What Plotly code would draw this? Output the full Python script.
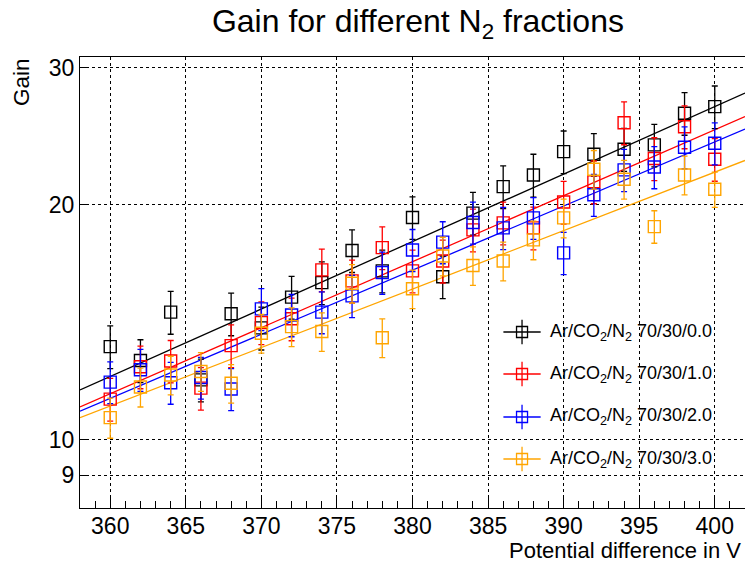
import numpy as np
import plotly.graph_objects as go

# Potential difference (V)
voltage = [360, 362, 364, 366, 368, 370, 372, 374, 376, 378, 380,
           382, 384, 386, 388, 390, 392, 394, 396, 398, 400]

# Measured gain and uncertainty for each N2 admixture
gain_n2_00 = [13.16, 12.63, 14.57, 11.93, 14.50, 13.91, 15.23, 15.90, 17.48, 16.46, 19.27,
              16.18, 19.52, 21.11, 21.85, 23.41, 23.23, 23.58, 23.88, 26.22, 26.74]
err_n2_00 = [0.83, 0.80, 0.92, 0.75, 0.91, 0.88, 0.96, 1.00, 1.10, 1.04, 1.21,
             1.02, 1.23, 1.33, 1.38, 1.47, 1.46, 1.49, 1.50, 1.65, 1.68]

gain_n2_10 = [11.27, 12.40, 12.61, 11.64, 13.20, 14.13, 14.29, 16.51, 15.98, 17.63, 16.46,
              16.95, 18.58, 18.97, 18.69, 20.17, 21.42, 25.50, 22.94, 25.20, 22.89]
err_n2_10 = [0.71, 0.78, 0.79, 0.73, 0.83, 0.89, 0.90, 1.04, 1.01, 1.11, 1.04,
             1.07, 1.17, 1.20, 1.18, 1.27, 1.35, 1.61, 1.45, 1.59, 1.44]

gain_n2_20 = [11.85, 12.29, 11.83, 12.01, 11.61, 14.71, 14.45, 14.57, 15.29, 16.38, 17.51,
              17.92, 18.99, 18.69, 19.25, 17.36, 20.61, 22.18, 22.37, 23.72, 24.00]
err_n2_20 = [0.73, 0.76, 0.73, 0.74, 0.72, 0.91, 0.90, 0.90, 0.95, 1.02, 1.09,
             1.11, 1.18, 1.16, 1.19, 1.08, 1.28, 1.38, 1.39, 1.47, 1.49]

gain_n2_30 = [10.67, 11.68, 12.10, 12.23, 11.81, 13.69, 13.96, 13.76, 15.87, 13.51, 15.61,
              17.20, 16.72, 16.95, 18.04, 19.25, 22.22, 21.58, 18.76, 21.85, 20.95]
err_n2_30 = [0.63, 0.67, 0.69, 0.70, 0.67, 0.78, 0.80, 0.78, 0.90, 0.77, 0.89,
             0.98, 0.95, 0.97, 1.03, 1.10, 1.27, 1.23, 0.90, 1.25, 1.09]

labels = ["Ar/CO<sub>2</sub>/N<sub>2</sub> 70/30/0.0",
          "Ar/CO<sub>2</sub>/N<sub>2</sub> 70/30/1.0",
          "Ar/CO<sub>2</sub>/N<sub>2</sub> 70/30/2.0",
          "Ar/CO<sub>2</sub>/N<sub>2</sub> 70/30/3.0"]
colors = ["#000000", "#ff0000", "#0000ff", "#ffa500"]
gains = [gain_n2_00, gain_n2_10, gain_n2_20, gain_n2_30]
errors = [err_n2_00, err_n2_10, err_n2_20, err_n2_30]

x_range = [358, 402]
y_range = [8.17, 30.96]
FONT = "Liberation Sans, Arial, sans-serif"


def expo_fit(v, g, e):
    """Chi-square fit of G = exp(p0 + p1*V) with errors on G (Gauss-Newton)."""
    p1, p0 = np.polyfit(v, np.log(g), 1, w=g / e)
    for _ in range(50):
        f = np.exp(p0 + p1 * v)
        r = (g - f) / e
        J = np.column_stack([f / e, f * v / e])
        step, *_ = np.linalg.lstsq(J, r, rcond=None)
        p0 += step[0]
        p1 += step[1]
        if np.max(np.abs(step)) < 1e-12:
            break
    return p0, p1


fig = go.Figure()

v = np.array(voltage, dtype=float)
v_fit = np.linspace(x_range[0], x_range[1], 50)

for g, e, col in zip(gains, errors, colors):
    p0, p1 = expo_fit(v, np.array(g), np.array(e))
    fig.add_trace(go.Scatter(
        x=v_fit, y=np.exp(p0 + p1 * v_fit), mode="lines",
        line=dict(color=col, width=1.3), showlegend=False, hoverinfo="skip"))

for g, e, col in zip(gains, errors, colors):
    fig.add_trace(go.Scatter(
        x=voltage, y=g, mode="markers",
        marker=dict(symbol="square-open", size=12, color=col,
                    line=dict(color=col, width=1.4)),
        error_y=dict(type="data", array=e, color=col, thickness=1.3, width=3),
        showlegend=False))

# legend block drawn on an auxiliary unit axis
leg_x = 0.6647
leg_y = [0.3902, 0.2971, 0.2018, 0.1086]
for lab, col, ly in zip(labels, colors, leg_y):
    fig.add_trace(go.Scatter(
        x=[leg_x], y=[ly], xaxis="x2", yaxis="y2", mode="markers",
        marker=dict(symbol="square-open", size=11, color=col,
                    line=dict(color=col, width=1.3)),
        error_x=dict(type="constant", value=0.028, color=col, thickness=1.3, width=0),
        error_y=dict(type="constant", value=0.027, color=col, thickness=1.3, width=0),
        showlegend=False, hoverinfo="skip"))
    fig.add_annotation(x=0.7038, y=ly, xref="paper", yref="paper",
                       text=lab, showarrow=False, xanchor="left", yanchor="middle",
                       font=dict(family=FONT, size=18, color="black"))

fig.update_layout(
    width=745, height=563,
    margin=dict(l=80, r=0, t=57, b=55),
    paper_bgcolor="white", plot_bgcolor="white",
    font=dict(family=FONT, color="black"),
    title=dict(text="Gain for different N<sub>2</sub> fractions",
               x=0.561, xanchor="center", y=1 - 21 / 563, yanchor="middle",
               font=dict(family=FONT, size=32, color="black")),
    xaxis=dict(range=x_range, showline=True, linecolor="black", linewidth=1.3,
               mirror=True, ticks="inside", ticklen=12, tickwidth=1, tickcolor="black",
               dtick=5, tick0=360, ticklabelstandoff=-3,
               showgrid=True, gridcolor="black", griddash="dot", gridwidth=1,
               zeroline=False,
               minor=dict(dtick=1, ticks="inside", ticklen=7, tickcolor="black",
                          showgrid=False),
               tickfont=dict(family=FONT, size=23, color="black")),
    yaxis=dict(type="log", range=[np.log10(y_range[0]), np.log10(y_range[1])],
               showline=True, linecolor="black", linewidth=1.3, mirror=False,
               ticks="inside", ticklen=9, tickwidth=1, tickcolor="black",
               tickvals=[9, 10, 20, 30], ticktext=["9", "10", "20", "30"],
               showgrid=True, gridcolor="black", griddash="dot", gridwidth=1,
               zeroline=False,
               tickfont=dict(family=FONT, size=23, color="black")),
    xaxis2=dict(range=[0, 1], overlaying="x", visible=False, fixedrange=True),
    yaxis2=dict(range=[0, 1], overlaying="y", visible=False, fixedrange=True),
    showlegend=False,
)

fig.add_annotation(text="Potential difference in V", xref="paper", yref="paper",
                   x=1, y=0, xanchor="right", yanchor="middle", yshift=-42, xshift=-2,
                   showarrow=False, font=dict(family=FONT, size=22, color="black"))
fig.add_annotation(text="Gain", xref="paper", yref="paper", textangle=-90,
                   x=0, y=1, xanchor="center", yanchor="top", xshift=-59, yshift=1,
                   showarrow=False, font=dict(family=FONT, size=22.5, color="black"))

fig.write_html("out.html")
